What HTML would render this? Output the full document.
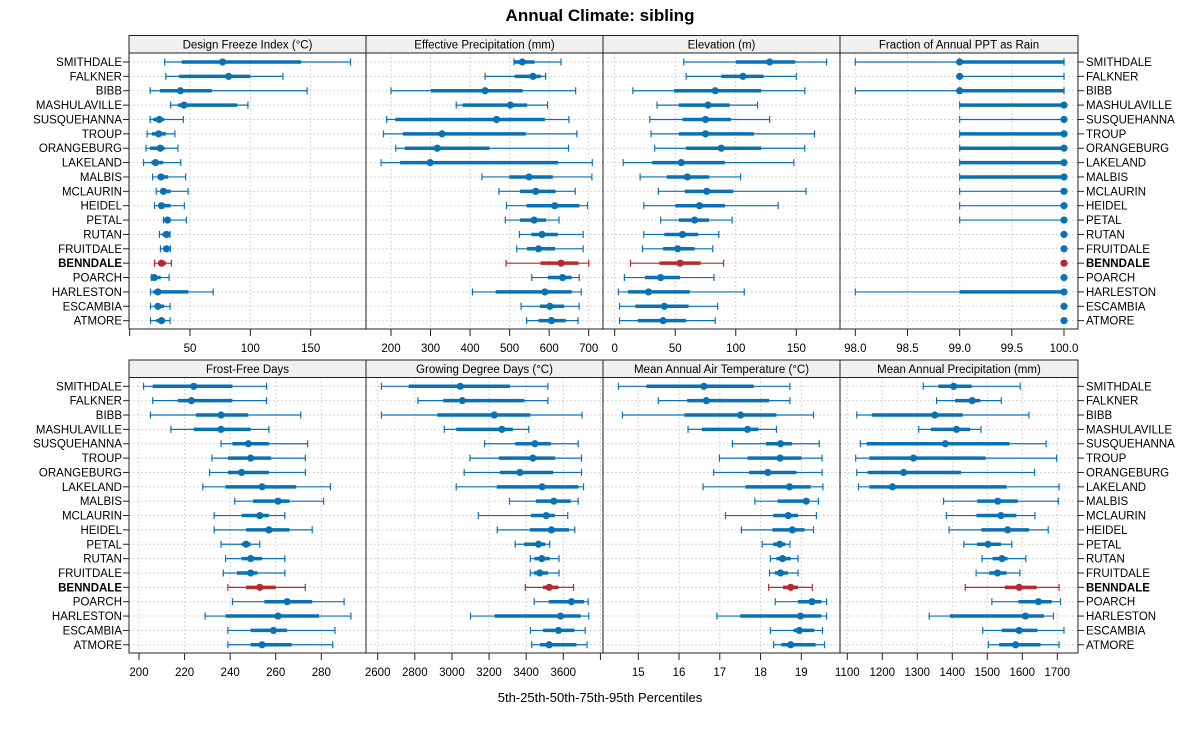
<!DOCTYPE html>
<html><head><meta charset="utf-8"><style>
body{margin:0;background:#fff;}
svg{font-family:"Liberation Sans",sans-serif;}
</style></head><body>
<svg id="chart" width="1200" height="725" viewBox="0 0 1200 725" xmlns="http://www.w3.org/2000/svg">
<text x="600" y="21" text-anchor="middle" font-size="17" font-weight="bold">Annual Climate: sibling</text>
<text x="600" y="702" text-anchor="middle" font-size="13">5th-25th-50th-75th-95th Percentiles</text>
</svg>
<script>
const categories = ["SMITHDALE","FALKNER","BIBB","MASHULAVILLE","SUSQUEHANNA","TROUP","ORANGEBURG","LAKELAND","MALBIS","MCLAURIN","HEIDEL","PETAL","RUTAN","FRUITDALE","BENNDALE","POARCH","HARLESTON","ESCAMBIA","ATMORE"];
const highlight = "BENNDALE";
const freezeIndex = [[29,43,77,142,183],[30,41,82,100,127],[17,25,42,68,147],[34,40,45,89,98],[17,19.5,24.5,28.6,44.5],[14.5,18.5,24,30,37.5],[13.5,16.8,25.3,29,40],[11.5,18,21.4,27.8,42.3],[19,23,26,32,46.4],[22,26.4,28,34,48.4],[20.6,24,26.4,34,45.3],[28,28.8,31.3,34,47],[24.7,27.2,30.5,33.2,33.5],[25.5,28.3,30.5,32.7,33.8],[20.6,24,26.4,30,34.6],[18,19.5,20.3,25.8,32.7],[17.3,19.5,23.4,48.6,69.2],[17.3,20.9,23.4,28.6,33.5],[17.3,22,26.4,29.4,33.5]];
const effPrecip = [[511,512,532,563,630],[438,513,559,579,591],[200,301,438,533,667],[365,381,502,544,596],[189,211,467,589,650],[181,230,329,541,670],[212,235,317,449,649],[175,223,299,623,709],[430,499,549,609,708],[473,526,566,616,666],[492,543,614,676,697],[489,526,562,592,625],[525,555,582,622,686],[518,544,573,615,686],[491,578,630,674,700],[556,597,634,657,676],[406,465,589,657,681],[529,577,602,638,676],[543,573,606,642,673]];
const elevation = [[57,100,128,149,175],[59,88,106,123,150],[15,49,83,121,157],[35,53,77,95,118],[29,56,75,96,128],[30,53,75,115,165],[33,59,88,121,157],[7,31,55,91,148],[21,43,60,78,104],[36,58,76,98,158],[24,50,70,91,135],[38,53,66,78,97],[24,41,56,69,86],[23,40,52,66,81],[13,37,54,71,90],[8,25,38,54,82],[3,11,28,62,107],[4,17,41,61,85],[4,19,40,59,83]];
const rainFraction = [[98,99,99,100,100],[99,99,99,99,100],[98,99,99,100,100],[99,99,100,100,100],[99,100,100,100,100],[99,99,100,100,100],[99,99,100,100,100],[99,99,100,100,100],[99,99,100,100,100],[99,100,100,100,100],[99,100,100,100,100],[99,100,100,100,100],[100,100,100,100,100],[100,100,100,100,100],[100,100,100,100,100],[100,100,100,100,100],[98,99,100,100,100],[100,100,100,100,100],[100,100,100,100,100]];
const frostFree = [[202,206,224,241,256],[206,217,223,241,256],[205,225,236,248,271],[214,224,236,249,257],[236,241,248,257,274],[232,239,249,258,273],[231,239,245,257,273],[228,238,254,269,284],[242,250,261,266,281],[233,245,253,257,264],[233,247,257,266,276],[236,245,247,249,253],[238,245,249,254,264],[237,243,249,252,264],[239,247,253,260,273],[241,255,265,276,290],[229,238,261,279,293],[239,249,259,265,286],[239,249,254,267,285]];
const gdd = [[2620,2767,3045,3312,3517],[2817,2953,3056,3391,3517],[2620,2921,3228,3422,3701],[2959,3023,3269,3328,3414],[3176,3341,3447,3533,3680],[3097,3253,3436,3556,3698],[3066,3258,3366,3545,3698],[3023,3242,3486,3682,3709],[3310,3452,3549,3640,3680],[3142,3425,3508,3554,3624],[3244,3420,3536,3631,3662],[3341,3389,3466,3502,3527],[3422,3445,3484,3527,3577],[3422,3441,3473,3518,3577],[3395,3490,3524,3574,3655],[3443,3522,3644,3712,3734],[3100,3230,3585,3694,3737],[3423,3491,3574,3660,3718],[3430,3474,3524,3671,3728]];
const airTemp = [[14.51,15.2,16.61,17.83,18.72],[15.49,16.2,16.67,18.21,18.72],[14.61,16.13,17.51,18.39,19.3],[16.22,16.56,17.68,17.95,18.39],[17.31,18.13,18.49,18.77,19.44],[16.99,17.68,18.48,19.01,19.51],[16.85,17.72,18.18,18.88,19.51],[16.59,17.63,18.71,19.23,19.53],[17.86,18.42,19.12,19.2,19.42],[17.14,18.31,18.68,18.92,19.37],[17.53,18.29,18.78,19.08,19.3],[18.04,18.31,18.47,18.61,18.72],[18.24,18.39,18.54,18.74,18.92],[18.22,18.35,18.49,18.67,18.92],[18.2,18.55,18.74,18.92,19.27],[18.36,18.92,19.26,19.49,19.62],[16.93,17.5,18.98,19.49,19.62],[18.24,18.81,18.95,19.32,19.52],[18.32,18.51,18.74,19.35,19.57]];
const annPrecip = [[1317,1360,1404,1455,1594],[1355,1408,1457,1480,1540],[1127,1170,1350,1430,1619],[1304,1339,1412,1451,1482],[1137,1155,1380,1563,1668],[1124,1163,1289,1495,1698],[1127,1158,1261,1425,1635],[1132,1163,1229,1555,1705],[1375,1471,1530,1587,1703],[1383,1469,1539,1583,1636],[1391,1483,1558,1619,1674],[1433,1471,1502,1539,1570],[1485,1515,1542,1558,1610],[1468,1505,1529,1555,1593],[1437,1550,1591,1641,1705],[1513,1589,1646,1684,1709],[1334,1393,1609,1662,1689],[1487,1541,1591,1643,1719],[1503,1534,1581,1652,1705]];
const panelTitles = ["Design Freeze Index (°C)","Effective Precipitation (mm)","Elevation (m)","Fraction of Annual PPT as Rain","Frost-Free Days","Growing Degree Days (°C)","Mean Annual Air Temperature (°C)","Mean Annual Precipitation (mm)"];
const tickVals = [[0,50,100,150],[200,300,400,500,600,700],[0,50,100,150],[98,98.5,99,99.5,100],[200,220,240,260,280],[2600,2800,3000,3200,3400,3600,3800],[15,16,17,18,19],[1100,1200,1300,1400,1500,1600,1700]];
const tickLabels = [["","50","100","150"],["200","300","400","500","600","700"],["0","50","100","150"],["98.0","98.5","99.0","99.5","100.0"],["200","220","240","260","280"],["2600","2800","3000","3200","3400","3600",""],["15","16","17","18","19"],["1100","1200","1300","1400","1500","1600","1700"]];
const panelData = [freezeIndex,effPrecip,elevation,rainFraction,frostFree,gdd,airTemp,annPrecip];
// calibration: value->pixel reference points (layout)
const scales = [[50,190,150,310.7],[200,391,700,588.7],[0,614.7,150,796.3],[98,855.3,100,1064],[200,139,280,321.3],[2600,377.7,3600,563.3],[15,638.3,19,801.3],[1100,847.3,1700,1057.3]];
const NS="http://www.w3.org/2000/svg";
const svg=document.getElementById('chart');
function mk(tag,attrs,parent){const e=document.createElementNS(NS,tag);for(const k in attrs)e.setAttribute(k,attrs[k]);(parent||svg).appendChild(e);return e;}
const colX=[129,366,603,840,1078];
const rows=[{strip:35.5,top:53,bot:329,y0:62,dy:14.37,lab:352},{strip:360,top:377.5,bot:653,y0:386.3,dy:14.36,lab:676}];
const BLUE="#0a72b4",RED="#b52a2a";
for(let p=0;p<8;p++){
  const r=rows[Math.floor(p/4)], c=p%4, L=colX[c], R=colX[c+1];
  const [v0,x0,v1,x1]=scales[p];
  const xs=v=>x0+(v-v0)*(x1-x0)/(v1-v0);
  const yOf=i=>r.y0+i*r.dy;
  const g=mk('g',{});
  
  
  // grid
  tickVals[p].forEach(v=>{const x=xs(v);if(x>L&&x<R){const gl=mk('line',{x1:x,x2:x,y1:r.top,y2:r.bot,stroke:'#c8c8c8','stroke-dasharray':'1.5,2.5'},g);}});
  categories.forEach((cat,i)=>{const gl=mk('line',{x1:L,x2:R,y1:yOf(i),y2:yOf(i),stroke:'#c8c8c8','stroke-dasharray':'1.5,2.5'},g);});
  // marks
  panelData[p].forEach((d,i)=>{
    const col=categories[i]===highlight?RED:BLUE, y=yOf(i);
    const m=mk('g',{},g);
    
    
    mk('line',{x1:xs(d[0]),x2:xs(d[4]),y1:y,y2:y,stroke:col,'stroke-width':1.2},m);
    if(d[4]>d[2]) mk('line',{x1:xs(d[4]),x2:xs(d[4]),y1:y-3.5,y2:y+3.5,stroke:col,'stroke-width':1.2},m);
    if(d[0]<d[2]) mk('line',{x1:xs(d[0]),x2:xs(d[0]),y1:y-3.5,y2:y+3.5,stroke:col,'stroke-width':1.2},m);
    mk('line',{x1:xs(d[1]),x2:xs(d[3]),y1:y,y2:y,stroke:col,'stroke-width':3.5},m);
    mk('circle',{cx:xs(d[2]),cy:y,r:3.6,fill:col},m);
  });
  // box & strip
  const box=mk('rect',{x:L,y:r.top,width:R-L,height:r.bot-r.top,fill:'none',stroke:'#222','stroke-width':1},g);
  
  
  const st=mk('rect',{x:L,y:r.strip,width:R-L,height:r.top-r.strip,fill:'#f0f0f0',stroke:'#222','stroke-width':1},g);
  
  
  const t=mk('text',{x:(L+R)/2,y:r.top-4.5,'text-anchor':'middle','font-size':11.5},g);
  t.textContent=panelTitles[p];
  
  
  // ticks
  tickVals[p].forEach((v,k)=>{const x=xs(v);if(x<L-1||x>R+1)return;
    mk('line',{x1:x,x2:x,y1:r.bot,y2:r.bot+7,stroke:'#222'},g);
    if(tickLabels[p][k]){const tl=mk('text',{x:x,y:r.lab,'text-anchor':'middle','font-size':11.5},g);tl.textContent=tickLabels[p][k];
    
    }
  });
}
// row labels
rows.forEach(r=>{categories.forEach((cat,i)=>{const y=r.y0+i*r.dy+4;const b=cat===highlight;
  const a=mk('text',{x:122,y:y,'text-anchor':'end','font-size':11.5,'font-weight':b?'bold':'normal'});a.textContent=cat;
  
  
  const z=mk('text',{x:1086,y:y,'font-size':11.5,'font-weight':b?'bold':'normal'});z.textContent=cat;
  
  
  const tk=mk('line',{x1:123,x2:129,y1:y-4,y2:y-4,stroke:'#222'});
  
  
  const tk2=mk('line',{x1:1078,x2:1084,y1:y-4,y2:y-4,stroke:'#222'});
  
  
});});
</script>
</body></html>
